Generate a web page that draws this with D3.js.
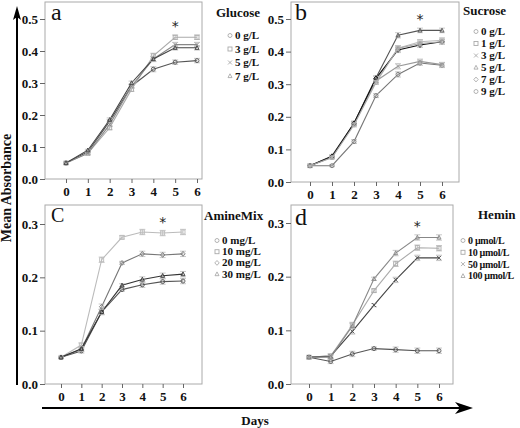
<!DOCTYPE html>
<html><head><meta charset="utf-8">
<script src="https://cdn.jsdelivr.net/npm/d3@7"></script>
<style>body{margin:0;background:#fff}svg{display:block}text{font-family:"Liberation Serif","Times New Roman",serif}</style>
</head><body>
<svg id="c" width="520" height="428"></svg>
<script>
const days = [0,1,2,3,4,5,6];

// Panel a: Glucose
const glucoseLabels = ["0 g/L","3 g/L","5 g/L","7 g/L"];
const glucose0 = [0.05,0.085,0.18,0.29,0.343,0.365,0.37];
const glucose3 = [0.05,0.08,0.16,0.28,0.385,0.443,0.443];
const glucose5 = [0.05,0.08,0.17,0.29,0.375,0.42,0.42];
const glucose7 = [0.05,0.09,0.185,0.30,0.375,0.41,0.41];

// Panel b: Sucrose
const sucroseLabels = ["0 g/L","1 g/L","3 g/L","5 g/L","7 g/L","9 g/L"];
const sucrose0 = [0.05,0.05,0.124,0.265,0.33,0.365,0.358];
const sucrose1 = [0.05,0.075,0.18,0.31,0.41,0.43,0.435];
const sucrose3 = [0.05,0.078,0.178,0.31,0.355,0.37,0.36];
const sucrose5 = [0.05,0.08,0.18,0.32,0.45,0.465,0.465];
const sucrose7 = [0.05,0.078,0.18,0.318,0.405,0.42,0.43];
const sucrose9 = [0.05,0.075,0.175,0.305,0.41,0.425,0.43];

// Panel c: AmineMix
const amineLabels = ["0 mg/L","10 mg/L","20 mg/L","30 mg/L"];
const amine0 = [0.05,0.062,0.135,0.177,0.186,0.192,0.193];
const amine10 = [0.05,0.073,0.233,0.275,0.285,0.283,0.285];
const amine20 = [0.05,0.065,0.145,0.227,0.244,0.242,0.244];
const amine30 = [0.05,0.066,0.135,0.185,0.196,0.203,0.206];

// Panel d: Hemin
const heminLabels = ["0 \u00b5mol/L","10 \u00b5mol/L","50 \u00b5mol/L","100 \u00b5mol/L"];
const hemin0 = [0.05,0.042,0.056,0.066,0.064,0.062,0.062];
const hemin10 = [0.05,0.052,0.11,0.174,0.224,0.254,0.253];
const hemin50 = [0.05,0.052,0.098,0.147,0.194,0.235,0.235];
const hemin100 = [0.05,0.05,0.108,0.196,0.244,0.273,0.273];

const errAB = [0.002,0.003,0.006,0.006,0.008,0.007,0.007];
const errCD = [0.001,0.004,0.005,0.003,0.005,0.005,0.005];

const ticksAB = [0,0.1,0.2,0.3,0.4,0.5];
const ticksCD = [0,0.1,0.2,0.3];

const panels = [
  {letter:"a", title:"Glucose", labels:glucoseLabels, series:[glucose0,glucose3,glucose5,glucose7],
   colors:["#555","#aaa","#888","#444"], shapes:["circle","square","cross","triangle"], err:errAB,
   box:[45,2,202,179], y0:179, yTop:19, yTopVal:0.5, x0:66, x6:197, ticks:ticksAB,
   lx:230, ty:17, tx:216, ly0:39, lstep:13.5, letterPos:[51,20], letterSize:24, fs:11},
  {letter:"b", title:"Sucrose", labels:sucroseLabels, series:[sucrose0,sucrose1,sucrose3,sucrose5,sucrose7,sucrose9],
   colors:["#777","#bbb","#999","#555","#111","#aaa"], shapes:["circle","square","cross","triangle","diamond","circle"], err:errAB,
   box:[291,2,459,182], y0:182, yTop:19, yTopVal:0.5, x0:310, x6:442, ticks:ticksAB,
   lx:476, ty:15, tx:463, ly0:35, lstep:12, letterPos:[295,20], letterSize:24, fs:11},
  {letter:"c", title:"AmineMix", labels:amineLabels, series:[amine0,amine10,amine20,amine30],
   colors:["#555","#bbb","#777","#333"], shapes:["circle","square","diamond","triangle"], err:errCD,
   box:[45,205,202,384], y0:384, yTop:224, yTopVal:0.3, x0:61, x6:183, ticks:ticksCD,
   lx:217, ty:220, tx:204, ly0:244, lstep:11.2, letterPos:[51,222], letterSize:20, sc:true, fs:11},
  {letter:"d", title:"Hemin", labels:heminLabels, series:[hemin0,hemin10,hemin50,hemin100],
   colors:["#555","#aaa","#444","#888"], shapes:["circle","square","cross","triangle"], err:errCD,
   box:[291,205,453,384], y0:384, yTop:223, yTopVal:0.3, x0:309, x6:439, ticks:ticksCD,
   lx:463, ty:219, tx:478, ly0:244, lstep:11.8, letterPos:[295,225], letterSize:24, fs:10, ls:-0.3}
];

const svg = d3.select("#c");

function marker(g, shape, x, y, s, color){
  if(shape==="circle") g.append("circle").attr("cx",x).attr("cy",y).attr("r",s).attr("fill","none").attr("stroke",color).attr("stroke-width",0.9);
  else if(shape==="square") g.append("rect").attr("x",x-s).attr("y",y-s).attr("width",2*s).attr("height",2*s).attr("fill","none").attr("stroke",color).attr("stroke-width",0.9);
  else if(shape==="cross") g.append("path").attr("d",`M${x-s},${y-s}L${x+s},${y+s}M${x-s},${y+s}L${x+s},${y-s}`).attr("stroke",color).attr("stroke-width",0.9);
  else if(shape==="triangle") g.append("path").attr("d",`M${x},${y-s*1.1}L${x+s},${y+s*0.8}L${x-s},${y+s*0.8}Z`).attr("fill","none").attr("stroke",color).attr("stroke-width",0.9);
  else if(shape==="diamond") g.append("path").attr("d",`M${x},${y-s*1.2}L${x+s*1.1},${y}L${x},${y+s*1.2}L${x-s*1.1},${y}Z`).attr("fill","none").attr("stroke",color).attr("stroke-width",0.9);
}

panels.forEach(p => {
  const g = svg.append("g");
  const [bx0,by0,bx1,by1] = p.box;
  const x = d3.scaleLinear().domain([0,6]).range([p.x0,p.x6]);
  const y = d3.scaleLinear().domain([0,p.yTopVal]).range([p.y0,p.yTop]);

  g.append("rect").attr("x",bx0).attr("y",by0).attr("width",bx1-bx0).attr("height",by1-by0)
    .attr("fill","none").attr("stroke","#aaa").attr("stroke-width",1);

  const yAxis = g.append("g").attr("transform",`translate(${bx0},0)`)
    .call(d3.axisLeft(y).tickValues(p.ticks).tickFormat(d3.format(".1f")).tickSize(5).tickPadding(2));
  yAxis.select(".domain").remove();
  yAxis.selectAll("line").attr("stroke","#666");
  yAxis.selectAll("text").attr("font-size",13).attr("font-weight","bold").attr("fill","#111");

  const xAxis = g.append("g").attr("transform",`translate(0,${by1})`)
    .call(d3.axisBottom(x).tickValues(days).tickFormat(d3.format("d")).tickSize(4).tickPadding(4));
  xAxis.select(".domain").remove();
  xAxis.selectAll("line").attr("stroke","#666");
  xAxis.selectAll("text").attr("font-size",13).attr("font-weight","bold").attr("fill","#111");

  const line = d3.line().x((d,i)=>x(days[i])).y(d=>y(d));
  p.series.forEach((s,k) => {
    const col = p.colors[k];
    g.append("path").datum(s).attr("d",line).attr("fill","none").attr("stroke",col).attr("stroke-width",1.1);
    s.forEach((v,i) => {
      const e = p.err[i];
      const cx = x(days[i]);
      g.append("path").attr("d",`M${cx},${y(v-e)}L${cx},${y(v+e)}M${cx-3},${y(v-e)}L${cx+3},${y(v-e)}M${cx-3},${y(v+e)}L${cx+3},${y(v+e)}`)
        .attr("stroke","#bbb").attr("stroke-width",0.8).attr("fill","none");
      marker(g, p.shapes[k], cx, y(v), 2, col);
    });
  });

  // star above day 5
  const maxAt5 = d3.max(p.series, s => s[5]);
  g.append("text").attr("x",x(5)).attr("y",y(maxAt5)-6).attr("text-anchor","middle")
    .attr("font-size",14).attr("fill","#222").style("font-family","'DejaVu Sans',sans-serif").text("*");

  // panel letter
  g.append("text").attr("x",p.letterPos[0]).attr("y",p.letterPos[1]).attr("font-size",p.letterSize)
    .attr("fill","#111").text(p.sc ? "C" : p.letter);

  // legend
  g.append("text").attr("x",p.tx).attr("y",p.ty).attr("font-size",13).attr("font-weight","bold").attr("fill","#111").text(p.title);
  p.labels.forEach((lab,k) => {
    const ly = p.ly0 + k*p.lstep;
    marker(g, p.shapes[k], p.lx, ly-3.5, 2, "#aaa");
    g.append("text").attr("x",p.lx+5).attr("y",ly).attr("font-size",p.fs).attr("font-weight","bold")
      .attr("letter-spacing",p.ls||0).attr("fill","#111").text(lab);
  });
});

// Y arrow
svg.append("line").attr("x1",17).attr("x2",17).attr("y1",385).attr("y2",16).attr("stroke","#000").attr("stroke-width",2);
svg.append("path").attr("d","M17,6L21,20L17,17L13,20Z").attr("fill","#000");
svg.append("text").attr("transform","translate(11,188) rotate(-90)").attr("text-anchor","middle")
  .attr("font-size",14).attr("font-weight","bold").attr("fill","#111").text("Mean Absorbance");

// X arrow
svg.append("line").attr("x1",42).attr("x2",462).attr("y1",408).attr("y2",408).attr("stroke","#000").attr("stroke-width",2);
svg.append("path").attr("d","M473,408L455,402L460,408L455,414Z").attr("fill","#000");
svg.append("text").attr("x",255).attr("y",425).attr("text-anchor","middle")
  .attr("font-size",13).attr("font-weight","bold").attr("fill","#111").text("Days");
</script>
</body></html>
